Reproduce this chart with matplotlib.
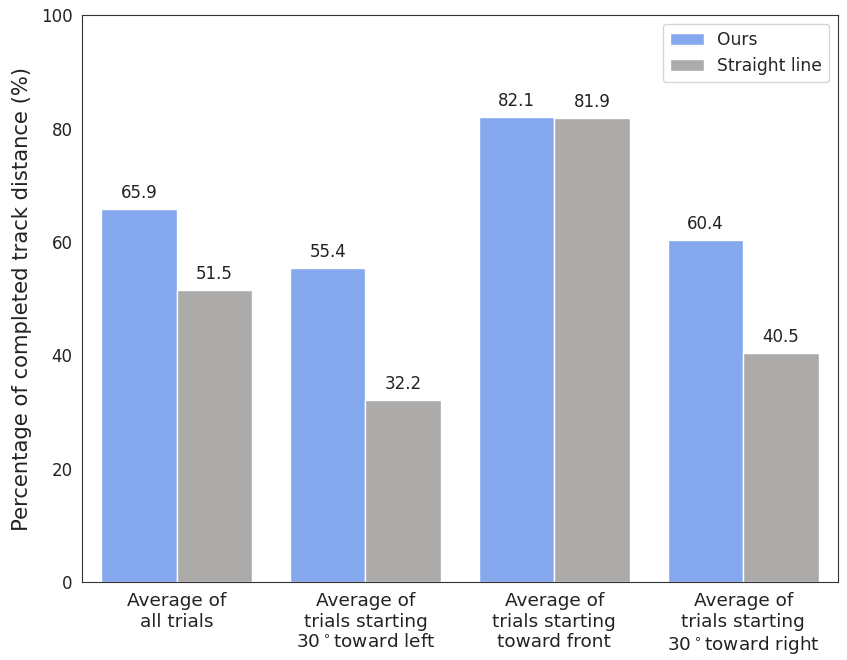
import numpy as np
import matplotlib
matplotlib.use('Agg')
import matplotlib.pyplot as plt
import seaborn as sns

sns.set_style('white')
plt.rcParams['font.family'] = ['DejaVu Sans']

# 数据
categories = ['Average of\nall trials',
              'Average of\ntrials starting\n30$^\\circ$toward left',
              'Average of\ntrials starting\ntoward front',
              'Average of\ntrials starting\n30$^\\circ$toward right']
ours = [65.9, 55.4, 82.1, 60.4]
straight = [51.5, 32.2, 81.9, 40.5]
series_names = ['Ours', 'Straight line']

fig = plt.figure(figsize=(8.47, 6.6), dpi=100)
ax = fig.add_axes([0.097, 0.118, 0.892, 0.859])

x = np.arange(len(categories))
w = 0.4
b1 = ax.bar(x - w / 2, ours, w, color='#84a7ee', edgecolor='white', linewidth=1, label=series_names[0])
b2 = ax.bar(x + w / 2, straight, w, color='#acabaa', edgecolor='white', linewidth=1, label=series_names[1])

for bars in (b1, b2):
    for r in bars:
        h = r.get_height()
        ax.annotate(f'{h:.1f}', (r.get_x() + r.get_width() / 2, h),
                    xytext=(0, 5), textcoords='offset points',
                    ha='center', va='bottom', fontsize=12, color='#222222')

ax.set_xlim(-0.5, 3.5)
ax.set_ylim(0, 100)
ax.set_xticks(x)
ax.set_xticklabels(categories, fontsize=13.3, color='#222222')
ax.tick_params(axis='y', labelsize=12, labelcolor='#222222')
ax.set_ylabel('Percentage of completed track distance (%)', fontsize=15.2, color='#222222', labelpad=6)
for s in ax.spines.values():
    s.set_color('#333333')
ax.legend(loc='upper right', fontsize=12.3)

plt.savefig('out.png', dpi=100)
